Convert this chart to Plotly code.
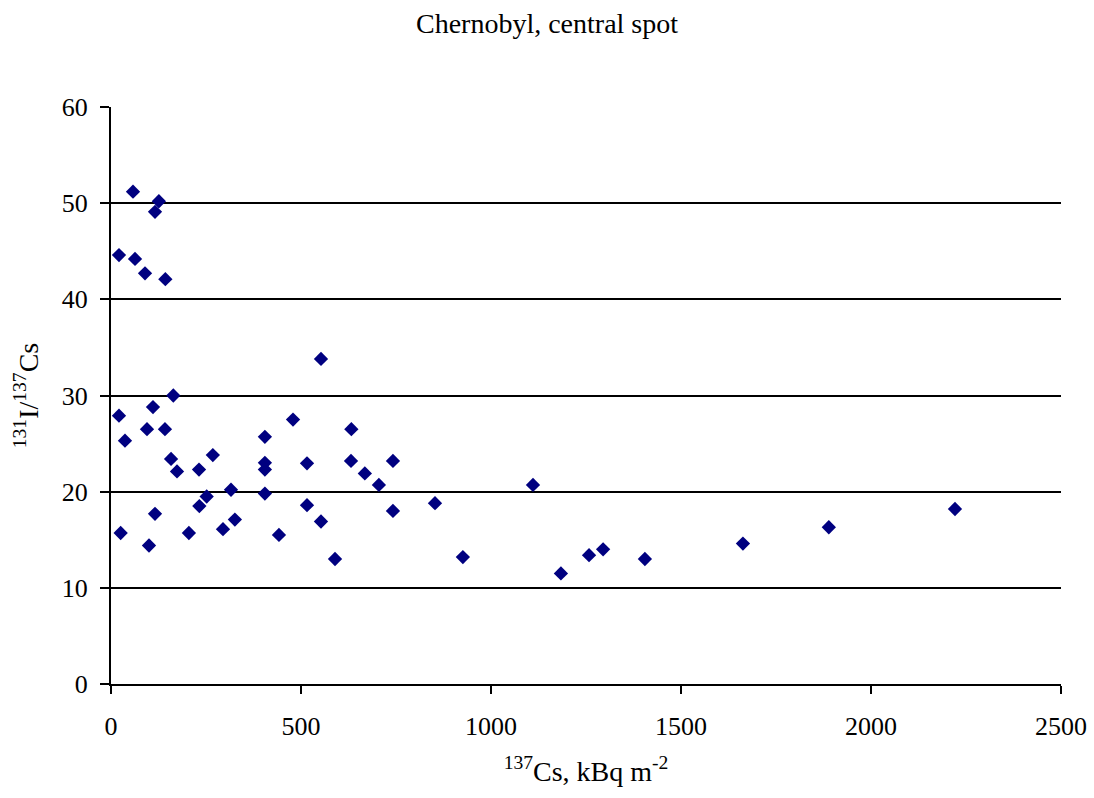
import plotly.graph_objects as go

cs137 = [57.9, 126, 115.8, 21, 63.2, 89.5, 143, 552.6, 164, 21, 110.5, 94.7, 142, 36.8,
         479, 405, 158, 173.7, 231.6, 268, 405, 405, 515.8, 315.8, 405, 251.8, 232.5,
         115.8, 25.4, 100, 205, 294.7, 326, 515.8, 442, 552.6, 589.5, 632.5, 631.6, 668,
         705, 742, 742, 1110.5, 852.6, 926, 1184, 1258, 1295, 1405, 1663, 1889, 2221]
ratio = [51.2, 50.2, 49.1, 44.6, 44.2, 42.7, 42.1, 33.8, 30.0, 27.9, 28.8, 26.5, 26.5, 25.3,
         27.5, 25.7, 23.4, 22.1, 22.3, 23.8, 23.0, 22.3, 22.95, 20.2, 19.8, 19.5, 18.5,
         17.7, 15.7, 14.4, 15.7, 16.1, 17.1, 18.6, 15.5, 16.9, 13.0, 26.5, 23.2, 21.9,
         20.7, 23.2, 18.0, 20.7, 18.8, 13.2, 11.5, 13.4, 14.0, 13.0, 14.6, 16.3, 18.2]

x_ticks = [0, 500, 1000, 1500, 2000, 2500]
y_ticks = [0, 10, 20, 30, 40, 50, 60]

FONT = "Liberation Serif, Times New Roman, serif"

fig = go.Figure()
fig.add_trace(go.Scatter(
    x=cs137, y=ratio, mode="markers",
    marker=dict(symbol="diamond", size=11, color="#000080",
                line=dict(width=0)),
    showlegend=False, cliponaxis=False,
))

fig.update_layout(
    width=1094, height=798,
    margin=dict(l=111, r=33, t=107, b=114, autoexpand=False),
    paper_bgcolor="white", plot_bgcolor="white",
    font=dict(family=FONT, size=26, color="black"),
    title=dict(text="Chernobyl, central spot", x=0.5, xanchor="center",
               y=1 - 23 / 798, yanchor="middle", yref="container",
               font=dict(family=FONT, size=28, color="black")),
    xaxis=dict(
        range=[0, 2500], tickvals=x_ticks, ticks="outside", ticklen=8,
        tickwidth=1.5, tickcolor="black", showgrid=False, zeroline=False,
        showline=True, linecolor="black", linewidth=2, automargin=False,
        ticklabelstandoff=10,
        tickfont=dict(family=FONT, size=26, color="black"),
        title=dict(text="<sup>137</sup>Cs, kBq m<sup>-2</sup>", standoff=21,
                   font=dict(family=FONT, size=28, color="black")),
    ),
    yaxis=dict(
        range=[0, 60], tickvals=y_ticks, ticks="outside", ticklen=9,
        tickwidth=1.5, tickcolor="black", showgrid=True, gridcolor="black",
        gridwidth=2, zeroline=False, showline=True, linecolor="black",
        linewidth=2, ticklabelstandoff=7, automargin=False,
        tickfont=dict(family=FONT, size=26, color="black"),
        title=dict(text="<sup>131</sup>I/<sup>137</sup>Cs", standoff=15,
                   font=dict(family=FONT, size=28, color="black")),
    ),
)

fig.write_html("out.html")
